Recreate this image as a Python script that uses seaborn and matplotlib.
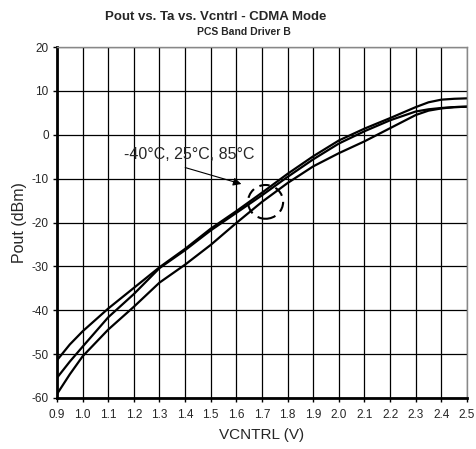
import numpy as np
import pandas as pd
import matplotlib
matplotlib.use("Agg")
import matplotlib.pyplot as plt
from matplotlib.patches import Ellipse
import seaborn as sns

# ----------------------------
# Data
# ----------------------------
vctrl = [0.9, 0.95, 1.0, 1.1, 1.2, 1.3, 1.4, 1.5, 1.6, 1.7, 1.8, 1.9,
         2.0, 2.1, 2.2, 2.3, 2.35, 2.4, 2.45, 2.5]
pout_top = [-51.4, -47.8, -44.8, -39.6, -34.9, -30.2, -26.0, -21.4, -17.4, -13.2,
            -8.9, -4.9, -1.3, 1.4, 3.8, 6.3, 7.4, 8.0, 8.2, 8.3]
pout_mid = [-55.4, -51.7, -48.3, -41.6, -36.3, -30.4, -26.3, -21.8, -17.8, -13.8,
            -9.6, -5.6, -2.0, 0.8, 3.3, 5.3, 5.8, 6.1, 6.3, 6.4]
pout_bot = [-59.1, -54.6, -50.5, -44.4, -39.2, -33.7, -29.6, -25.1, -20.1, -15.3,
            -11.0, -7.2, -4.2, -1.5, 1.5, 4.5, 5.5, 6.0, 6.3, 6.4]
curve_names = ["-40°C", "25°C", "85°C"]

x_ticks = [round(0.9 + 0.1 * i, 1) for i in range(17)]
y_ticks = [-60, -50, -40, -30, -20, -10, 0, 10, 20]

df = pd.DataFrame({
    "VCNTRL": vctrl * 3,
    "Pout": pout_top + pout_mid + pout_bot,
    "Temp": [curve_names[0]] * len(vctrl) + [curve_names[1]] * len(vctrl)
            + [curve_names[2]] * len(vctrl),
})

# ----------------------------
# Style
# ----------------------------
sns.set_style("white")
plt.rcParams["font.family"] = ["Liberation Sans", "DejaVu Sans"]

fig = plt.figure(figsize=(4.77, 4.49), dpi=100)
ax = fig.add_axes([0.1195, 0.1136, 0.8595, 0.7817])

sns.lineplot(data=df, x="VCNTRL", y="Pout", hue="Temp",
             palette=["black"] * 3, linewidth=1.6, legend=False, ax=ax)

ax.set_xlim(0.9, 2.5)
ax.set_ylim(-60, 20)
ax.set_xticks(x_ticks)
ax.set_xticklabels([f"{v:.1f}" for v in x_ticks], fontsize=8.5)
ax.set_yticks(y_ticks)
ax.set_yticklabels([str(v) for v in y_ticks], fontsize=8.5)
ax.grid(True, color="black", linewidth=0.9)
ax.set_axisbelow(True)

ax.tick_params(axis="both", direction="out", length=3, width=1, color="black",
               left=True, bottom=True)
ax.tick_params(axis="x", pad=5)
ax.tick_params(axis="y", pad=3)

for side in ["top", "right"]:
    ax.spines[side].set_color("#888888")
    ax.spines[side].set_linewidth(1)
for side in ["left", "bottom"]:
    ax.spines[side].set_color("black")
    ax.spines[side].set_linewidth(2)

ax.set_xlabel("VCNTRL (V)", fontsize=11, labelpad=5)
ax.set_ylabel("Pout (dBm)", fontsize=11.5, labelpad=3)

# Titles
fig.text(0.453, 0.962, "Pout vs. Ta vs. Vcntrl - CDMA Mode", fontsize=9.5,
         fontweight="bold", ha="center", va="center")
fig.text(0.511, 0.929, "PCS Band Driver B", fontsize=7.5, fontweight="bold",
         ha="center", va="center")

# Annotation
ax.annotate("", xy=(1.63, -11.4), xytext=(1.39, -7.3),
            arrowprops=dict(arrowstyle="-|>", color="black", lw=0.8,
                            mutation_scale=12))
ax.text(1.16, -4.4, "-40°C, 25°C, 85°C", fontsize=11.5, ha="left", va="center")
ax.add_patch(Ellipse((1.714, -15.3), 0.137, 7.7, fill=False, edgecolor="black",
                     linewidth=1.5, linestyle=(0, (5, 3)), zorder=5))

fig.savefig("out.png", dpi=100, facecolor="white")
